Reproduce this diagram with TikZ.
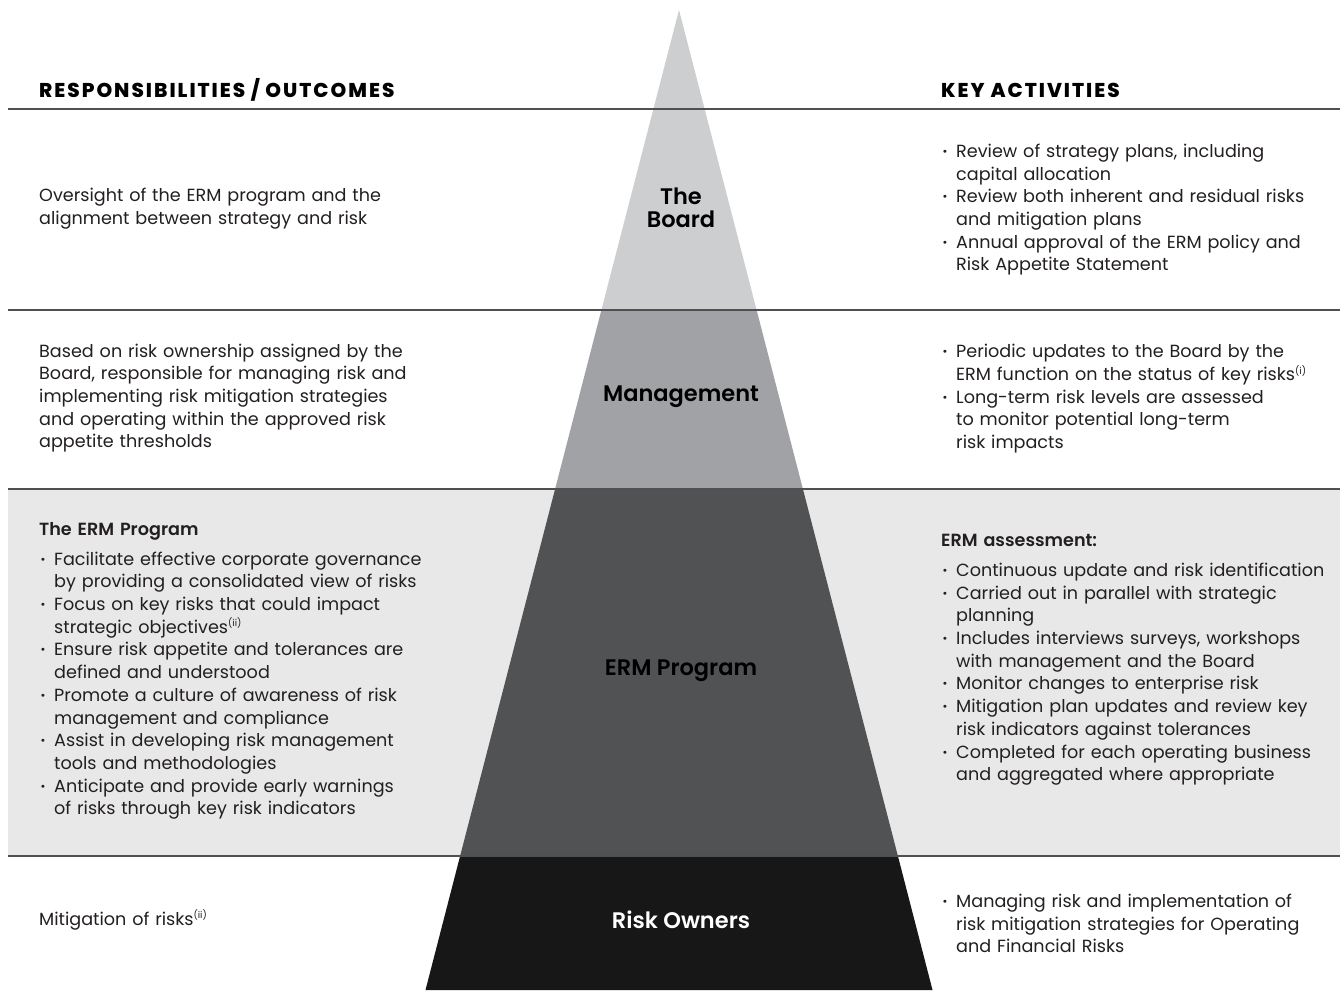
\documentclass[tikz,border=0pt]{standalone}
\usepackage{fontspec}
\setmainfont{Poppins}
\newfontfamily\semib{Poppins}[UprightFont=* SemiBold]
\newfontfamily\xbold{Poppins}[UprightFont=* ExtraBold]
\definecolor{txt}{HTML}{231F20}
\definecolor{linegray}{HTML}{505050}
\definecolor{band}{HTML}{E8E8E8}
\definecolor{lay1}{HTML}{CDCECF}
\definecolor{lay2}{HTML}{A1A2A5}
\definecolor{lay3}{HTML}{515254}
\definecolor{lay4}{HTML}{171717}
\newcommand{\bitem}[1]{\par\hangindent=15pt\hangafter=1\noindent\makebox[15pt][l]{\kern1.5pt\semib·}#1\par}
\newcommand{\supr}[1]{\textsuperscript{\fontsize{9.5}{9.5}\selectfont(#1)}}
\tikzset{
  body/.style={font=\fontsize{17.6}{22.7}\selectfont, text=txt, align=left, inner sep=0pt, anchor=west, text width=420pt},
  headtxt/.style={font=\fontsize{20}{22}\selectfont\xbold\addfontfeature{LetterSpace=10}, text=black, inner sep=0pt, anchor=base west},
  layertitle/.style={font=\fontsize{22.5}{23.5}\selectfont\semib, align=center, inner sep=0pt},
  rule/.style={draw=linegray, line width=1.3pt},
}
\begin{document}
\begin{tikzpicture}[x=1pt,y=-1pt]
\useasboundingbox (0,0) rectangle (1340,990);
\fill[white] (0,0) rectangle (1340,990);
% grey band for ERM row
\fill[band] (8,489) rectangle (1340,856);
% pyramid layers
\fill[lay1] (679,10) -- (756.6,310) -- (601.4,310) -- cycle;
\fill[lay2] (601.4,310) -- (756.6,310) -- (802.9,489) -- (555.1,489) -- cycle;
\fill[lay3] (555.1,489) -- (802.9,489) -- (897.9,856) -- (460.1,856) -- cycle;
\fill[lay4] (460.1,856) -- (897.9,856) -- (932.5,990) -- (425.5,990) -- cycle;
% rules
\draw[rule] (8,109) -- (1340,109);
\draw[rule] (8,310) -- (1340,310);
\draw[rule] (8,489) -- (1340,489);
\draw[rule] (8,856) -- (1340,856);
% headers
\node[headtxt] (hl) at (39,97) {RESPONSIBILITIES / OUTCOMES};
\node[headtxt] (hr) at (941,97) {KEY ACTIVITIES};
% layer titles
\node[layertitle] (t1) at (681,208) {The\\Board};
\node[layertitle] (t2) at (681,397) {Management};
\node[layertitle] (t3) at (681,671) {ERM Program};
\node[layertitle, text=white] (t4) at (681,920) {Risk Owners};
% row 1
\node[body] (l1) at (39,209) {Oversight of the ERM program and the\newline alignment between strategy and risk};
\node[body] (r1) at (941,205) {%
\bitem{Review of strategy plans, including\newline capital allocation}%
\bitem{Review both inherent and residual risks\newline and mitigation plans}%
\bitem{Annual approval of the ERM policy and\newline Risk Appetite Statement}};
% row 2
\node[body] (l2) at (39,398) {Based on risk ownership assigned by the\newline Board, responsible for managing risk and\newline implementing risk mitigation strategies\newline and operating within the approved risk\newline appetite thresholds};
\node[body] (r2) at (941,394) {%
\bitem{Periodic updates to the Board by the\newline ERM function on the status of key risks\supr{i}}%
\bitem{Long-term risk levels are assessed\newline to monitor potential long-term\newline risk impacts}};
% row 3
\node[body] (l3) at (39,671) {{\semib The ERM Program}\par\vspace{7pt}%
\bitem{Facilitate effective corporate governance\newline by providing a consolidated view of risks}%
\bitem{Focus on key risks that could impact\newline strategic objectives\supr{ii}}%
\bitem{Ensure risk appetite and tolerances are\newline defined and understood}%
\bitem{Promote a culture of awareness of risk\newline management and compliance}%
\bitem{Assist in developing risk management\newline tools and methodologies}%
\bitem{Anticipate and provide early warnings\newline of risks through key risk indicators}};
\node[body] (r3) at (941,660) {{\semib ERM assessment:}\par\vspace{7pt}%
\bitem{Continuous update and risk identification}%
\bitem{Carried out in parallel with strategic\newline planning}%
\bitem{Includes interviews surveys, workshops\newline with management and the Board}%
\bitem{Monitor changes to enterprise risk}%
\bitem{Mitigation plan updates and review key\newline risk indicators against tolerances}%
\bitem{Completed for each operating business\newline and aggregated where appropriate}};
% row 4
\node[body] (l4) at (39,920) {Mitigation of risks\supr{ii}};
\node[body] (r4) at (941,919) {%
\bitem{Managing risk and implementation of\newline risk mitigation strategies for Operating\newline and Financial Risks}};
\end{tikzpicture}
\end{document}
